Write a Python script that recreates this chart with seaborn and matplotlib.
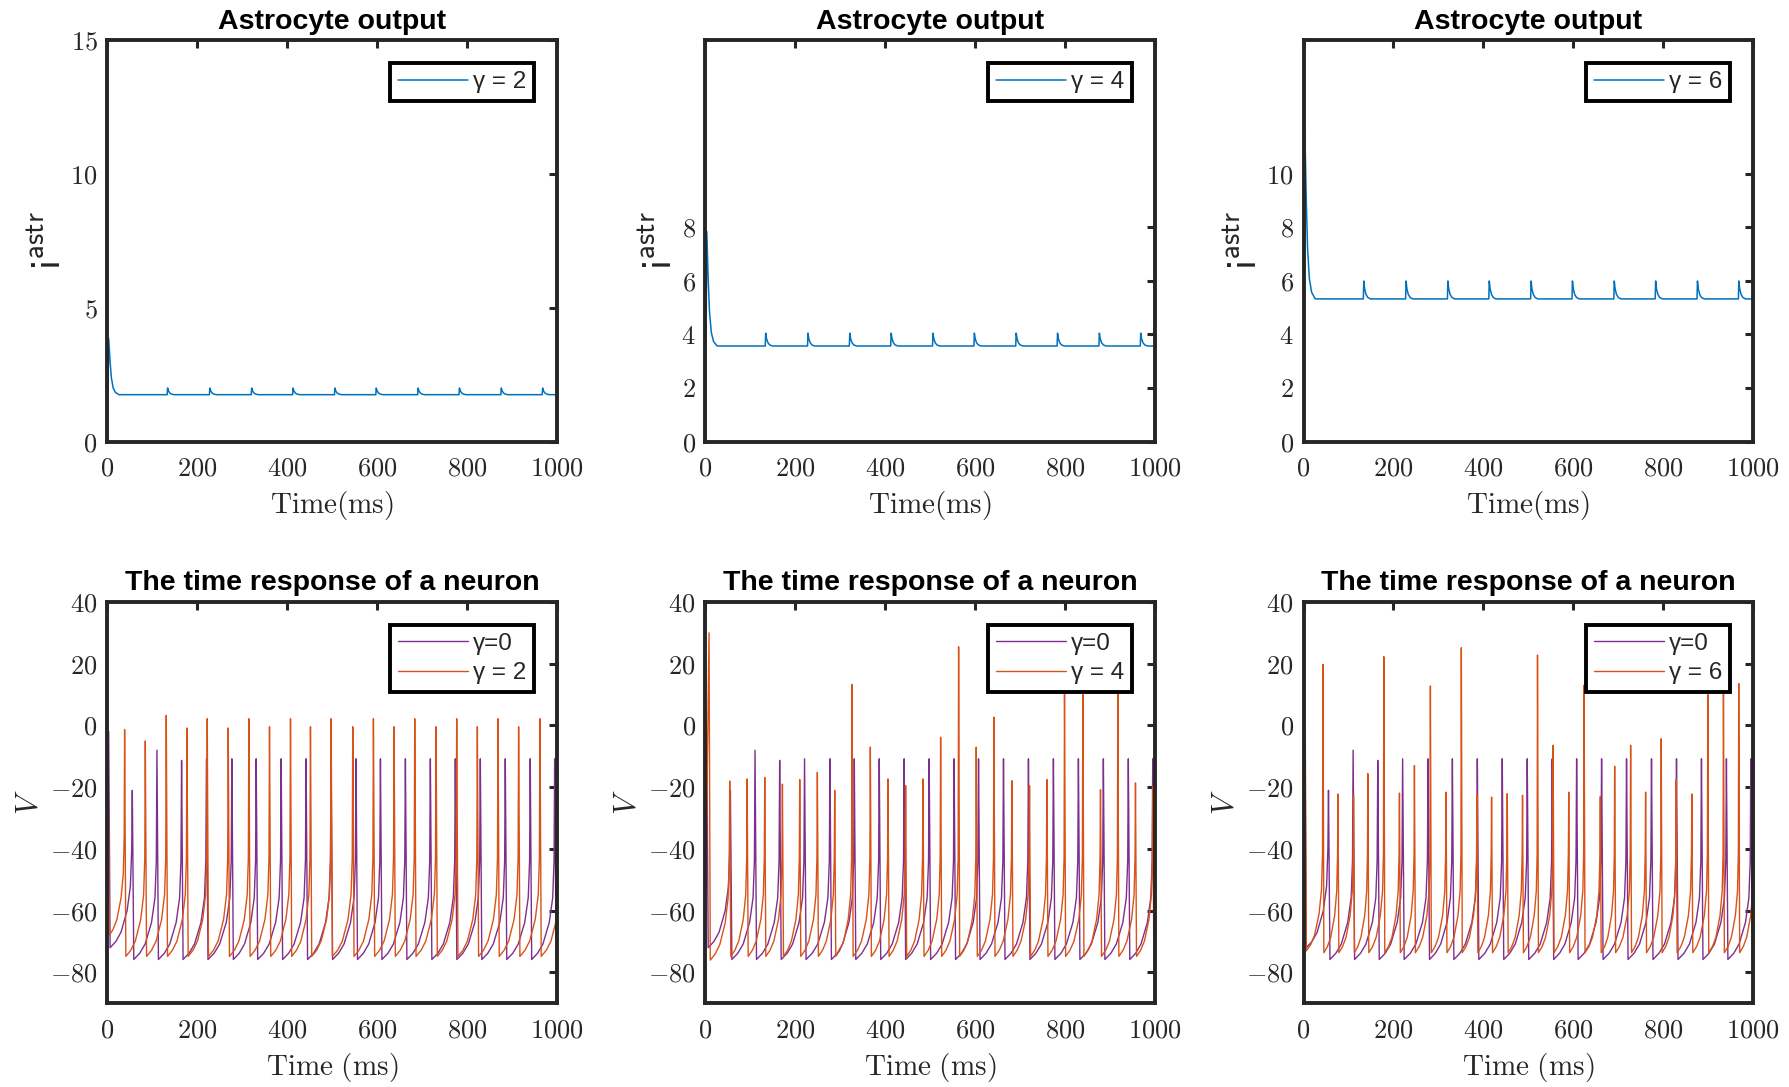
import numpy as np
import seaborn as sns
import matplotlib.pyplot as plt
from matplotlib.ticker import FuncFormatter, MultipleLocator

# ---- astrocyte output (top row) ----
GAMMAS = [2, 4, 6]
ASTRO_BASE = [1.75, 3.57, 5.33]
ASTRO_PEAK = [2.0, 4.05, 6.0]
ASTRO_INIT_PEAK = [3.85, 7.85, 11.6]
ASTRO_SPIKE_TIMES = [133, 227, 320, 412, 505, 597, 690, 782, 875, 967]
ASTRO_YTICKS = [[0, 5, 10, 15], [0, 2, 4, 6, 8], [0, 2, 4, 6, 8, 10]]
# decay shape of a calcium bump: ms after onset, fraction of height
ASTRO_DECAY_MS = [0, 1, 3, 6, 10, 16]
ASTRO_DECAY_FRAC = [0, 1, 0.55, 0.25, 0.08, 0]
ASTRO_INIT_MS = [3, 6, 9, 13, 18, 26]
ASTRO_INIT_FRAC = [1, 0.6, 0.3, 0.12, 0.04, 0]

# ---- neuron membrane potential (bottom row) ----
# gamma = 0 (same in every panel)
V0_TIMES = [3, 55.5, 110.3, 165.1, 220.4, 276.9, 331, 386.5, 441.9, 497.5,
            553, 607.3, 662.8, 718.3, 773.8, 829.4, 884.9, 940.4, 994.7]
V0_PEAKS = [-2, -21, -8, -11.3, -10.8, -10.8, -10.8, -10.8, -10.8, -10.8,
            -10.8, -10.8, -10.8, -10.8, -10.8, -10.8, -10.8, -10.8, -10.8]

V2_TIMES = [2, 38.4, 84.4, 131, 177, 222.1, 268.8, 314.7, 360.6, 407.3, 451.7,
            497.6, 545.8, 591.7, 637.6, 683.6, 731, 776.9, 822.8, 868.7, 914.6, 962]
V2_PEAKS = [-15, -1.3, -5, 3.3, -0.8, 2.2, -0.8, 2.2, -0.4, 2.2, -0.4,
            2.2, -0.4, 2.2, -0.4, 2.2, -0.4, 2.2, -0.4, 2.2, -0.4, 2.2]

V4_TIMES = [8, 54, 92.7, 131.9, 171.2, 209.7, 248.9, 287.5, 326, 366.7, 406, 445.2, 483.7,
            523, 563, 602.2, 641.5, 681.5, 720.7, 759.3, 798.5, 839.3, 878.5, 917, 956.3, 994.8]
V4_PEAKS = [30, -18, -17.3, -16.8, -19, -17.5, -15.2, -21, 13.3, -7, -17.3, -19.5, -17.3,
            -3.8, 25.5, -7, 2.7, -17.9, -19.5, -17.5, 11, 11, -20.8, 10.5, -18.6, -19.7]

V6_TIMES = [4, 43.2, 76.5, 111.2, 143, 178.6, 213.3, 246.6, 282.1, 316.9, 350.9, 385.7,
            418.2, 453, 487, 520.3, 555, 589.8, 623.8, 660, 691.9, 727.4, 760.7, 795.4,
            828.7, 863.5, 899, 933.8, 967.8]
V6_PEAKS = [-5.6, 19.8, -22.2, -22.7, -15.6, 22.3, -21.9, -13, 12.8, -21.6, 25.2, -22.4,
            -23.2, -22.1, -22.6, 22.8, -6.4, -21.6, 13, -23, -13.2, -6.4, -21.6, -4.3,
            -17.5, -22.2, 10, 12, 13.6]

V_START = {0: -64, 2: -62, 4: -62, 6: -60}
V_FIRST_TROUGH = {0: -72, 2: -68, 4: -76, 6: -73}
V_TROUGH = {0: -75.8, 2: -74.8, 4: -74.8, 6: -73.6}
V_END = {0: -75.5, 2: -51, 4: -75, 6: -42.5}

# recovery after a spike: fraction of interspike interval, mV above trough
RECOVERY_FRAC = [0.06, 0.3, 0.52, 0.78, 0.92, 0.975]
RECOVERY_DV = [0, 2, 5, 12, 20, 32]

BLUE = "#0072BD"
PURPLE = "#7E2F8E"
ORANGE = "#D95319"
INK = "#262626"


def astro_trace(base, peak, init_peak):
    t = [0.0]
    v = [0.0]
    for dt, f in zip(ASTRO_INIT_MS, ASTRO_INIT_FRAC):
        t.append(dt)
        v.append(base + f * (init_peak - base))
    for ts in ASTRO_SPIKE_TIMES:
        for dt, f in zip(ASTRO_DECAY_MS, ASTRO_DECAY_FRAC):
            t.append(ts + dt)
            v.append(base + f * (peak - base))
    t.append(1000)
    v.append(base)
    return np.array(t), np.array(v)


def neuron_trace(times, peaks, v_start, first_trough, trough, v_end):
    t = [0.0]
    v = [v_start]
    for i, (ts, pk) in enumerate(zip(times, peaks)):
        t.append(ts)
        v.append(pk)
        if i + 1 < len(times):
            isi = times[i + 1] - ts
        else:
            isi = ts - times[i - 1]
        low = first_trough if i == 0 else trough
        for f, dv in zip(RECOVERY_FRAC, RECOVERY_DV):
            if ts + f * isi < 1000:
                t.append(ts + f * isi)
                v.append(low + dv)
    t.append(1000)
    v.append(v_end)
    return np.array(t), np.array(v)


sns.set_theme(style="white")
plt.rcParams["font.family"] = ["Liberation Sans", "DejaVu Sans"]
plt.rcParams["mathtext.fontset"] = "cm"

fig, axes = plt.subplots(nrows=2, ncols=3)
fig.set_size_inches(17.89, 10.87)
plt.subplots_adjust(left=0.060, right=0.980, bottom=0.077, top=0.963,
                    wspace=0.33, hspace=0.40)

tick_fmt = FuncFormatter(lambda val, pos: f"${val:g}$")


def style_axis(axis):
    for spine in axis.spines.values():
        spine.set_linewidth(2.8)
        spine.set_color(INK)
    axis.tick_params(direction="in", length=6, width=2.2, top=True, right=True,
                     labelsize=19, colors=INK, pad=7)
    axis.tick_params(axis="x", pad=11)
    axis.xaxis.set_major_formatter(tick_fmt)
    axis.yaxis.set_major_formatter(tick_fmt)
    axis.set_xlim(0, 1000)
    axis.xaxis.set_major_locator(MultipleLocator(200))


def style_legend(axis):
    leg = axis.legend(loc="upper right", fontsize=17.5, handlelength=2.9,
                      handletextpad=0.2, borderpad=0.32, labelspacing=0.3,
                      fancybox=False, framealpha=1, edgecolor="black",
                      borderaxespad=0.95)
    leg.get_frame().set_linewidth(2.8)
    for text in leg.get_texts():
        text.set_color(INK)


for col, g in enumerate(GAMMAS):
    ax = axes[0][col]
    t, v = astro_trace(ASTRO_BASE[col], ASTRO_PEAK[col], ASTRO_INIT_PEAK[col])
    sns.lineplot(x=t, y=v, ax=ax, color=BLUE, linewidth=1.1, estimator=None,
                 sort=False, label=f"γ = {g}")
    style_axis(ax)
    ax.set_ylim(0, 15)
    ax.set_yticks(ASTRO_YTICKS[col])
    ax.set_title("Astrocyte output", fontsize=20.5, fontweight="bold", color="black", pad=8)
    ax.set_xlabel(r"$\mathrm{Time(ms)}$", fontsize=21, color=INK, labelpad=6)
    ax.set_ylabel(r"$\mathsf{i}^{\mathsf{astr}}$", fontsize=30, color=INK, labelpad=0)
    style_legend(ax)

orange_sets = {2: (V2_TIMES, V2_PEAKS), 4: (V4_TIMES, V4_PEAKS), 6: (V6_TIMES, V6_PEAKS)}

for col, g in enumerate(GAMMAS):
    ax = axes[1][col]
    t0, v0 = neuron_trace(V0_TIMES, V0_PEAKS, V_START[0], V_FIRST_TROUGH[0],
                          V_TROUGH[0], V_END[0])
    times, peaks = orange_sets[g]
    tg, vg = neuron_trace(times, peaks, V_START[g], V_FIRST_TROUGH[g],
                          V_TROUGH[g], V_END[g])
    sns.lineplot(x=t0, y=v0, ax=ax, color=PURPLE, linewidth=1.0, estimator=None,
                 sort=False, label="γ=0")
    sns.lineplot(x=tg, y=vg, ax=ax, color=ORANGE, linewidth=1.0, estimator=None,
                 sort=False, label=f"γ = {g}")
    style_axis(ax)
    ax.set_ylim(-90, 40)
    ax.set_yticks([-80, -60, -40, -20, 0, 20, 40])
    ax.set_title("The time response of a neuron", fontsize=20.5, fontweight="bold",
                 color="black", pad=9)
    ax.set_xlabel(r"$\mathrm{Time\ (ms)}$", fontsize=21, color=INK, labelpad=6)
    ax.set_ylabel(r"$V$", fontsize=22, color=INK)
    style_legend(ax)

plt.savefig("out.png", dpi=100)
